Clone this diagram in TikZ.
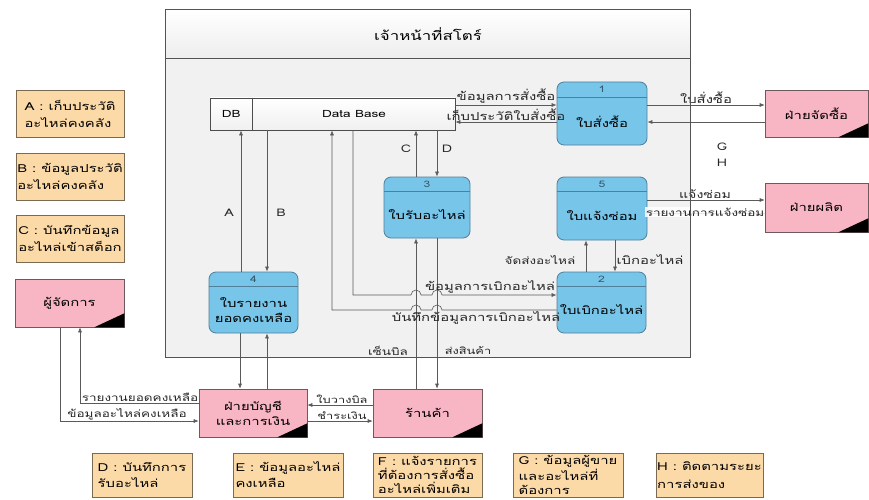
\documentclass[tikz,border=0pt]{standalone}
\usepackage{fontspec}
\setmainfont[Script=Thai, FakeStretch=1.35]{Loma}
\usetikzlibrary{arrows.meta,calc,shadows}
\definecolor{procfill}{HTML}{78C5EA}
\definecolor{procdraw}{HTML}{4F7F99}
\definecolor{entfill}{HTML}{F8B6C4}
\definecolor{entdraw}{HTML}{6E5A5E}
\definecolor{legfill}{HTML}{FCDAA8}
\definecolor{legdraw}{HTML}{7B6A52}
\definecolor{linec}{HTML}{5A5A5A}
\definecolor{contfill}{HTML}{F1F1F1}
\newcommand\myproc[7]{%
  \node[proc, minimum width=#3pt, minimum height=#4pt] (#1) at (#2) {};
  \draw[procdraw, line width=0.8pt] ([yshift=-#5pt]#1.north west) -- ([yshift=-#5pt]#1.north east);
  \node[font=\fontsize{9}{10}\selectfont, text=procdraw!70!black] (#1-num) at ([yshift=-#5pt/2]#1.north) {#6};
  \node[align=center, font=\fontsize{11}{15}\selectfont] (#1-txt) at ($(#1.south)!0.5!([yshift=-#5pt]#1.north)$) {#7};
}
% legend box: name, center, width, height, baselineskip, text
\newcommand\mylegend[6]{%
  \node[leg, minimum width=#3pt, minimum height=#4pt] (#1) at (#2) {};
  \node[align=left, inner sep=0, font=\fontsize{11}{#5}\selectfont] (#1-txt) at (#1.center) {#6};
}
\begin{document}
\begin{tikzpicture}[x=1pt,y=-1pt,
  font=\fontsize{11}{12}\selectfont,
  proc/.style={draw=procdraw, fill=procfill, rounded corners=7pt, line width=0.8pt, inner sep=0},
  ent/.style={draw=entdraw, fill=entfill, line width=0.6pt, inner sep=0, align=center, font=\fontsize{11}{15}\selectfont},
  leg/.style={draw=legdraw, fill=legfill, line width=0.7pt, inner sep=0,
    drop shadow={shadow xshift=1pt, shadow yshift=-1pt, opacity=0.25}},
  ln/.style={draw=linec, line width=0.6pt},
  arr/.style={ln, -{Latex[length=5pt,width=4pt]}},
  lbl/.style={inner sep=1pt, text=black!85, font=\fontsize{10.5}{12}\selectfont},
  big/.style={font=\fontsize{11}{12}\selectfont},
  small/.style={font=\fontsize{10}{12}\selectfont},
  tiny/.style={font=\fontsize{9.5}{12}\selectfont}]
\useasboundingbox (0,0) rectangle (869,500);
% container
\node[fill=contfill, minimum width=524pt, minimum height=347pt, inner sep=0] (cont) at (428,183.5) {};
\shade[top color=white, bottom color=gray!14] (cont.north west) rectangle (cont.north east |- 0,58);
\node[font=\fontsize{12.5}{14}\selectfont] (title) at (428,34) {เจ้าหน้าที่สโตร์};
% data store
\node[draw=gray!60!black, top color=white, bottom color=gray!12, line width=0.7pt, minimum width=245pt, minimum height=32pt, inner sep=0] (db) at (332.5,114) {};
\draw[gray!60!black, line width=0.7pt] ([xshift=43pt]db.north west) -- ([xshift=43pt]db.south west);
\node[font=\fontsize{10}{12}\selectfont] (dbid) at ([xshift=21.5pt]db.west) {DB};
\node[font=\fontsize{10}{12}\selectfont] (dbname) at ($(db.east)!0.5!([xshift=43pt]db.west)$) {Data Base};
% processes
\myproc{p1}{602,113.5}{90}{63}{16}{1}{ใบสั่งซื้อ}
\myproc{p5}{602,208.5}{90}{63}{15}{5}{ใบแจ้งซ่อม}
\myproc{p2}{601.5,302.5}{89}{61}{15}{2}{ใบเบิกอะไหล่}
\myproc{p3}{427,207.5}{86}{61}{15}{3}{ใบรับอะไหล่}
\myproc{p4}{253.5,302.5}{89}{61}{15}{4}{ใบรายงาน\\ยอดคงเหลือ}
% external entities
\node[ent, minimum width=103pt, minimum height=47pt] (e1) at (816.5,113.5) {ฝ่ายจัดซื้อ};
\node[ent, minimum width=103pt, minimum height=49pt] (e2) at (816.5,207.5) {ฝ่ายผลิต};
\node[ent, minimum width=109pt, minimum height=48pt] (e3) at (69.5,303) {ผู้จัดการ};
\node[ent, minimum width=108pt, minimum height=48pt] (e4) at (253,413) {ฝ่ายบัญชี\\และการเงิน};
\node[ent, minimum width=109pt, minimum height=48pt] (e5) at (427.5,413) {ร้านค้า};
\foreach \n in {e1,e2,e3,e4,e5}
  \fill[black] (\n.south east) -- ++(0,-14) -- ++(-30,14) -- cycle;
% legend
\mylegend{la}{70,113.5}{108}{47}{17}{A : เก็บประวัติ\\อะไหล่คงคลัง}
\mylegend{lb}{70,176.5}{108}{47}{17}{B : ข้อมูลประวัติ\\อะไหล่คงคลัง}
\mylegend{lc}{70,238.5}{108}{47}{17}{C : บันทึกข้อมูล\\อะไหล่เข้าสต็อก}
\mylegend{ld}{142,475}{100}{44}{16}{D : บันทึกการ\\รับอะไหล่}
\mylegend{le}{288,475}{110}{44}{16}{E : ข้อมูลอะไหล่\\คงเหลือ}
\mylegend{lf}{427.5,475}{109}{44}{14}{F : แจ้งรายการ\\ที่ต้องการสั่งซื้อ\\อะไหล่เพิ่มเติม}
\mylegend{lg}{568,475}{110}{44}{14}{G : ข้อมูลผู้ขาย\\และอะไหล่ที่\\ต้องการ}
\mylegend{lh}{709.5,475}{107}{44}{18}{H : ติดตามระยะ\\การส่งของ}
% connectors
\draw[arr] (db.east |- 0,105) -- (p1.west |- 0,105);
\draw[arr] (p1.west |- 0,122) -- (db.east |- 0,122);
\draw[arr] (p1.east |- 0,105) -- (e1.west |- 0,105);
\draw[arr] (e1.west |- 0,122) -- (p1.east |- 0,122);
\draw[arr] (p5.east |- 0,200) -- (e2.west |- 0,200);
\draw[arr] (e2.west |- 0,213) -- (p5.east |- 0,213);
\draw[arr] (p4.north -| 241,0) -- (db.south -| 241,0);
\draw[arr] (db.south -| 267,0) -- (p4.north -| 267,0);
\draw[arr] (p3.north -| 416,0) -- (db.south -| 416,0);
\draw[arr] (db.south -| 437,0) -- (p3.north -| 437,0);
\draw[arr] (db.south -| 353,0) -- (353,295) -- (411,295) arc(180:360:5) -- (432,295) arc(180:360:5) -- (p2.west |- 0,295);
\draw[arr] (p2.west |- 0,310) -- (442,310) arc(0:-180:5) -- (421,310) arc(0:-180:5) -- (332,310) -- (db.south -| 332,0);
\draw[arr] (p2.north -| 586,0) -- (p5.south -| 586,0);
\draw[arr] (p5.south -| 615,0) -- (p2.north -| 615,0);
\draw[arr] (e5.north -| 416,0) -- (p3.south -| 416,0);
\draw[arr] (p3.south -| 437,0) -- (e5.north -| 437,0);
\draw[arr] (p4.south -| 240,0) -- (e4.north -| 240,0);
\draw[arr] (e4.north -| 267,0) -- (p4.south -| 267,0);
\draw[arr] (e4.west |- 0,403) -- (80,403) -- (e3.south -| 80,0);
\draw[arr] (e3.south -| 60,0) -- (60,421) -- (e4.west |- 0,421);
\draw[arr] (e5.west |- 0,405) -- (e4.east |- 0,405);
\draw[arr] (e4.east |- 0,421) -- (e5.west |- 0,421);
% labels
\node[lbl, big, anchor=south] (t1) at (506,105) {ข้อมูลการสั่งซื้อ};
\node[lbl, big, anchor=south] (t2) at (506,122) {เก็บประวัติใบสั่งซื้อ};
\node[lbl, big, anchor=south] (t3) at (706,105) {ใบสั่งซื้อ};
\node[lbl, anchor=south] (t4) at (705,200) {แจ้งซ่อม};
\node[lbl, small, fill=white, fill opacity=0.85, text opacity=1, inner sep=0.5pt] (t5) at (705,212) {รายงานการแจ้งซ่อม};
\node[lbl] (tA) at (229,213) {A};
\node[lbl] (tB) at (281,213) {B};
\node[lbl] (tC) at (406,149) {C};
\node[lbl] (tD) at (447,149) {D};
\node[lbl, big, anchor=south] (t6) at (490,295) {ข้อมูลการเบิกอะไหล่};
\node[lbl, big, anchor=north] (t7) at (476,310) {บันทึกข้อมูลการเบิกอะไหล่};
\node[lbl, small] (t8) at (540,260) {จัดส่งอะไหล่};
\node[lbl, big] (t9) at (650,260) {เบิกอะไหล่};
\node[lbl, small] (t10) at (388,351) {เซ็นบิล};
\node[lbl, tiny] (t11) at (468,351) {ส่งสินค้า};
\node[lbl, small, anchor=south] (t12) at (140,403) {รายงานยอดคงเหลือ};
\node[lbl, small, anchor=south] (t13) at (127,421) {ข้อมูลอะไหล่คงเหลือ};
\node[lbl, tiny, anchor=south] (t14) at (342,405) {ใบวางบิล};
\node[lbl, tiny, anchor=south] (t15) at (342,421) {ชำระเงิน};
\node[lbl] (tG) at (722,147) {G};
\node[lbl] (tH) at (722,163) {H};
% container outline
\draw[gray!65!black, line width=0.8pt] (cont.north west) rectangle (cont.south east);
\draw[gray!65!black, line width=0.8pt] (cont.west |- 0,58) -- (cont.east |- 0,58);
\end{tikzpicture}
\end{document}
